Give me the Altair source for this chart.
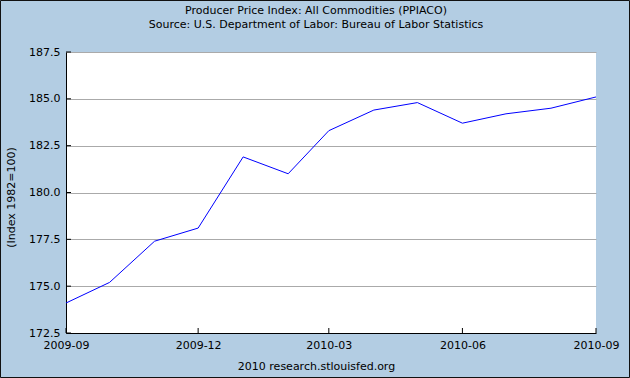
import altair as alt
import pandas as pd

# ---- data ----
dates = ["2009-09-01", "2009-10-01", "2009-11-01", "2009-12-01", "2010-01-01",
         "2010-02-01", "2010-03-01", "2010-04-01", "2010-05-01", "2010-06-01",
         "2010-07-01", "2010-08-01", "2010-09-01"]
ppi = [174.1, 175.2, 177.4, 178.1, 181.9, 181.0, 183.3,
       184.4, 184.8, 183.7, 184.2, 184.5, 185.1]
y_ticks = [172.5, 175.0, 177.5, 180.0, 182.5, 185.0, 187.5]
x_tick_dates = ["2009-09-01", "2009-12-01", "2010-03-01", "2010-06-01", "2010-09-01"]
x_tick_parts = [(2009, 9), (2009, 12), (2010, 3), (2010, 6), (2010, 9)]
title_lines = ["Producer Price Index: All Commodities (PPIACO)",
               "Source: U.S. Department of Labor: Bureau of Labor Statistics"]
y_title = "(Index 1982=100)"
footer = "2010 research.stlouisfed.org"

FONT = "DejaVu Sans"
BG = "#B3CDE3"
W, H = 530, 281

df = pd.DataFrame({"date": dates, "value": ppi})
xt = pd.DataFrame({"date": x_tick_dates})
yt = pd.DataFrame({"value": y_ticks})
frame = pd.DataFrame({"k": [0]})

x_scale = alt.Scale(type="utc", nice=False)
y_scale = alt.Scale(domain=[y_ticks[0], y_ticks[-1]], nice=False, zero=False)

x_axis = alt.Axis(
    values=[alt.DateTime(year=y, month=m, date=1, utc=True) for y, m in x_tick_parts],
    format="%Y-%m", ticks=False, labelPadding=6, labelFlush=False,
    labelOverlap=False, labelBound=False, grid=False,
    title=footer, titleX=250, titleY=33, titleBaseline="middle",
    titleAnchor="middle", titleAlign="center",
)
y_axis = alt.Axis(
    values=y_ticks, format=".1f", ticks=False, labelPadding=6,
    grid=True, gridColor="#AAAAAA", gridWidth=1,
    title=y_title, titleX=-55, titleY=145, titleAngle=270,
    titleAlign="center", titleBaseline="middle",
)

line = alt.Chart(df).mark_line(color="#0000FF", strokeWidth=1).encode(
    x=alt.X("date:T", scale=x_scale, axis=x_axis),
    y=alt.Y("value:Q", scale=y_scale, axis=y_axis),
)

xticks = alt.Chart(xt).mark_rule(color="black", strokeWidth=1).encode(
    x=alt.X("date:T", scale=x_scale),
    y=alt.value(H),
    y2=alt.value(H - 5),
)
yticks = alt.Chart(yt).mark_rule(color="black", strokeWidth=1).encode(
    y=alt.Y("value:Q", scale=y_scale),
    x=alt.value(0),
    x2=alt.value(5),
)
border = alt.Chart(frame).mark_rect(fill=None, stroke="#111111", strokeWidth=1).encode(
    x=alt.value(-65.5), x2=alt.value(W + 33.5),
    y=alt.value(-51.5), y2=alt.value(H + 44.5),
)

chart = alt.layer(line, xticks, yticks, border).properties(
    width=W, height=H,
    padding={"left": 66, "top": 52, "right": 34, "bottom": 45},
    autosize=alt.AutoSizeParams(type="none"),
    background=BG,
    title=alt.TitleParams(
        text=title_lines, font=FONT, fontSize=11, fontWeight="normal",
        color="black", anchor="middle", dx=-15, lineHeight=14,
        baseline="bottom", offset=0, dy=41,
    ),
).configure_view(
    fill="white", stroke=None,
).configure_axis(
    labelFont=FONT, labelFontSize=11, labelColor="black",
    titleFont=FONT, titleFontSize=11, titleColor="black", titleFontWeight="normal",
    domainColor="black", domainWidth=1,
)

chart.save("out.html", embed_options={"renderer": "svg", "actions": False})
